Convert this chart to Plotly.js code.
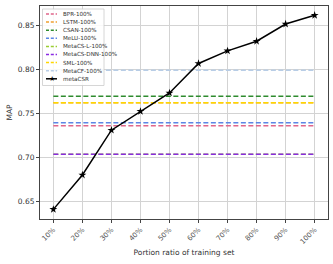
<!DOCTYPE html>
<html>
<head>
<meta charset="utf-8">
<script src="https://cdn.plot.ly/plotly-3.0.1.min.js"></script>
<style>html,body{margin:0;padding:0;background:#fff;}#chart{width:333px;height:264px;}</style>
</head>
<body>
<div id="chart"></div>
<script>
const categories = ["10%","20%","30%","40%","50%","60%","70%","80%","90%","100%"];
const baselineNames = ["BPR-100%","LSTM-100%","CSAN-100%","MeLU-100%","MetaCS-L-100%","MetaCS-DNN-100%","SML-100%","MetaCF-100%"];
const baselineValues = [0.7358, 0.7620, 0.7695, 0.7392, 0.7034, 0.7034, 0.7622, 0.7992];
const baselineColors = ["#e0668a","#f0a030","#2e8b2e","#5b86e5","#9acd32","#8a2be2","#ffd700","#b8cde6"];
const metaName = "metaCSR";
const metaValues = [0.6405, 0.6797, 0.7308, 0.7523, 0.7733, 0.8069, 0.8213, 0.8323, 0.8519, 0.8619];

const W = 333, H = 264;
const M = {l:40, r:5, t:6, b:45};
const pw = W - M.l - M.r, ph = H - M.t - M.b;
const px = x => (x - M.l) / pw;
const py = y => (H - M.b - y) / ph;

const traces = [];
baselineNames.forEach((n, i) => {
  traces.push({
    type: 'scatter', mode: 'lines', name: n,
    x: [categories[0], categories[categories.length-1]],
    y: [baselineValues[i], baselineValues[i]],
    line: {color: baselineColors[i], width: 1.5, dash: '5px,2.5px'},
    hoverinfo: 'skip'
  });
});
traces.push({
  type: 'scatter', mode: 'lines+markers', name: metaName,
  x: categories, y: metaValues,
  line: {color: '#000', width: 1.5},
  marker: {symbol: 'star', size: 6, color: '#000'}
});

// manual compact legend
const shapes = [];
const annotations = [];
shapes.push({type:'rect', xref:'paper', yref:'paper', x0:px(42.5), x1:px(104), y0:py(9), y1:py(85.5),
  line:{color:'#cccccc', width:0.8}, fillcolor:'rgba(255,255,255,0.85)', layer:'above'});
const allNames = baselineNames.concat([metaName]);
allNames.forEach((n, i) => {
  const yy = 14 + i * 8.1;
  const isMeta = i === baselineNames.length;
  shapes.push({type:'line', xref:'paper', yref:'paper', x0:px(46), x1:px(57), y0:py(yy), y1:py(yy),
    line:{color: isMeta ? '#000' : baselineColors[i], width: 1.5, dash: isMeta ? 'solid' : '3px,1.8px'}, layer:'above'});
  annotations.push({xref:'paper', yref:'paper', x:px(60.5), y:py(yy), text:n, showarrow:false,
    xanchor:'left', yanchor:'middle', font:{family:'DejaVu Sans', size:5.6, color:'#333'}});
  if (isMeta) {
    annotations.push({xref:'paper', yref:'paper', x:px(51.5), y:py(yy), text:'★', showarrow:false,
      xanchor:'center', yanchor:'middle', font:{family:'DejaVu Sans', size:7, color:'#000'}});
  }
});

const layout = {
  width: W, height: H,
  margin: M,
  paper_bgcolor: '#fff', plot_bgcolor: '#fff',
  showlegend: false,
  font: {family: 'DejaVu Sans', color: '#333'},
  xaxis: {
    type: 'category', categoryorder: 'array', categoryarray: categories,
    range: [-0.46, 9.46],
    tickangle: -45, tickfont: {size: 7, color: '#555'},
    showgrid: true, gridcolor: '#d3d3d3', gridwidth: 1,
    showline: true, linecolor: '#444', linewidth: 1, mirror: true,
    ticks: 'outside', ticklen: 3, tickcolor: '#444',
    title: {text: 'Portion ratio of training set', font: {size: 7.5, color: '#333'}, standoff: 4},
    zeroline: false
  },
  yaxis: {
    range: [0.6295, 0.8725],
    tickvals: [0.65, 0.70, 0.75, 0.80, 0.85],
    ticktext: ['0.65','0.70','0.75','0.80','0.85'],
    tickfont: {size: 7.5, color: '#333'},
    showgrid: true, gridcolor: '#d3d3d3', gridwidth: 1,
    showline: true, linecolor: '#444', linewidth: 1, mirror: true,
    ticks: 'outside', ticklen: 3, tickcolor: '#444',
    title: {text: 'MAP', font: {size: 7.5, color: '#333'}, standoff: 4},
    zeroline: false
  },
  shapes: shapes,
  annotations: annotations
};

Plotly.newPlot('chart', traces, layout, {staticPlot: true, displayModeBar: false});
</script>
</body>
</html>
